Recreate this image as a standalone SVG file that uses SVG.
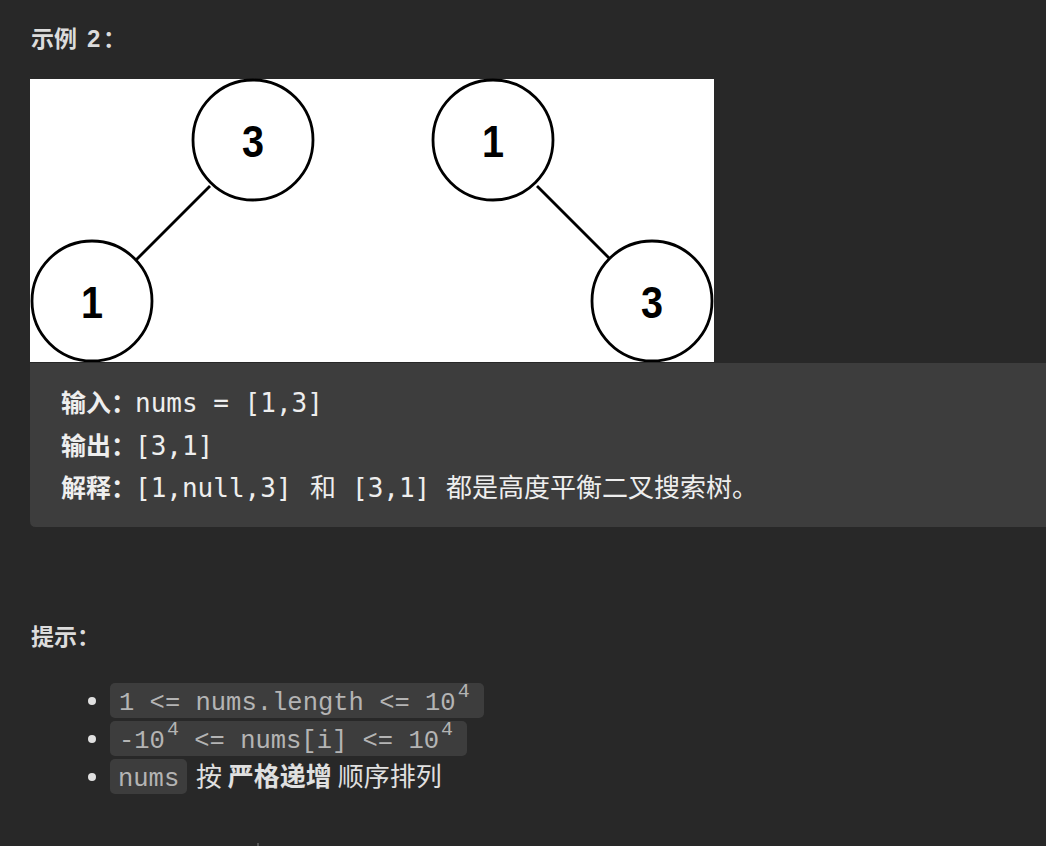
<svg xmlns="http://www.w3.org/2000/svg" width="1046" height="846" viewBox="0 0 1046 846">
<style>
.bg{fill:#282828}
.h{font-family:"Noto Sans CJK SC",sans-serif;font-weight:700;font-size:23px;fill:#dcdcdc}
.hn{font-family:"Liberation Sans","Noto Sans CJK SC",sans-serif;font-weight:700;font-size:24px;fill:#dcdcdc}
.lbl{font-family:"Noto Sans CJK SC",sans-serif;font-weight:700;font-size:25px;fill:#eeeeee}
.mono{font-family:"DejaVu Sans Mono","Noto Sans CJK SC",monospace;font-size:26px;fill:#eeeeee}
.cjk{font-family:"Noto Sans CJK SC",sans-serif;font-size:26px;fill:#eeeeee}
.node circle{fill:#ffffff;stroke:#000000;stroke-width:2.8}
.node text{font-family:"Liberation Sans",Arial,sans-serif;font-weight:700;font-size:44px;fill:#000000;text-anchor:middle}
.edge{stroke:#000000;stroke-width:2.8}
.chip{fill:#3d3d3d}
.ct{font-family:"Liberation Mono","Courier New",monospace;font-size:25.5px;fill:#b4b4b4}
.sup{font-family:"Liberation Mono","Courier New",monospace;font-size:20px;fill:#b4b4b4}
.body{font-family:"Noto Sans CJK SC",sans-serif;font-size:26px;fill:#e0e0e0}
.bold{font-weight:700}
</style>
<rect class="bg" x="0" y="0" width="1046" height="846"/>
<text class="h" x="31" y="47">示例</text>
<text class="hn" x="87" y="47">2</text>
<text class="h" x="103" y="47">：</text>
<g id="picture">
<rect x="30" y="79" width="684" height="283" fill="#ffffff"/>
<g id="connectors">
<line class="edge" x1="210" y1="186" x2="136" y2="260"/>
<line class="edge" x1="537" y1="186" x2="610" y2="259"/>
</g>
<g id="node-3-left-root" class="node"><circle cx="253" cy="140" r="60"/><text x="253" y="157" transform="translate(253 0) scale(0.9 1) translate(-253 0)">3</text></g>
<g id="node-1-left-child" class="node"><circle cx="92" cy="301" r="60"/><text x="92" y="318" transform="translate(92 0) scale(0.9 1) translate(-92 0)">1</text></g>
<g id="node-1-right-root" class="node"><circle cx="493" cy="140" r="60"/><text x="493" y="157" transform="translate(493 0) scale(0.9 1) translate(-493 0)">1</text></g>
<g id="node-3-right-child" class="node"><circle cx="652" cy="301" r="60"/><text x="652" y="318" transform="translate(652 0) scale(0.9 1) translate(-652 0)">3</text></g>
<rect x="0" y="362" width="1046" height="1" class="bg"/>
</g>
<path d="M30 363 H1046 V527 H36 Q30 527 30 521 Z" fill="#3d3d3d"/>
<text class="lbl" x="61" y="412">输入：</text>
<text class="mono" x="135" y="412">nums = [1,3]</text>
<text class="lbl" x="61" y="455">输出：</text>
<text class="mono" x="135" y="455">[3,1]</text>
<text class="lbl" x="61" y="497">解释：</text>
<text class="mono" x="135" y="497">[1,null,3]</text>
<text class="cjk" x="310" y="497">和</text>
<text class="mono" x="352" y="497">[3,1]</text>
<text class="cjk" x="446" y="497">都是高度平衡二叉搜索树。</text>
<text class="h" x="31" y="645">提示：</text>
<circle cx="92" cy="701" r="4" fill="#e0e0e0"/>
<circle cx="92" cy="739" r="4" fill="#e0e0e0"/>
<circle cx="92" cy="777" r="4" fill="#e0e0e0"/>
<rect class="chip" x="110" y="683" width="374" height="35" rx="5"/>
<rect class="chip" x="110" y="721" width="357" height="35" rx="5"/>
<rect class="chip" x="110" y="759" width="77" height="35" rx="5"/>
<text class="ct" x="119" y="710">1 &lt;= nums.length &lt;= 10<tspan class="sup" dx="2" dy="-13">4</tspan></text>
<text class="ct" x="119" y="748">-10<tspan class="sup" dx="2" dy="-13">4</tspan><tspan dy="13"> &lt;= nums[i] &lt;= 10</tspan><tspan class="sup" dx="2" dy="-13">4</tspan></text>
<text class="ct" x="118" y="786">nums</text>
<text class="body" x="196" y="786">按 <tspan class="bold">严格递增</tspan> 顺序排列</text>
<rect x="257" y="843" width="2" height="3" fill="#555555"/>
</svg>
